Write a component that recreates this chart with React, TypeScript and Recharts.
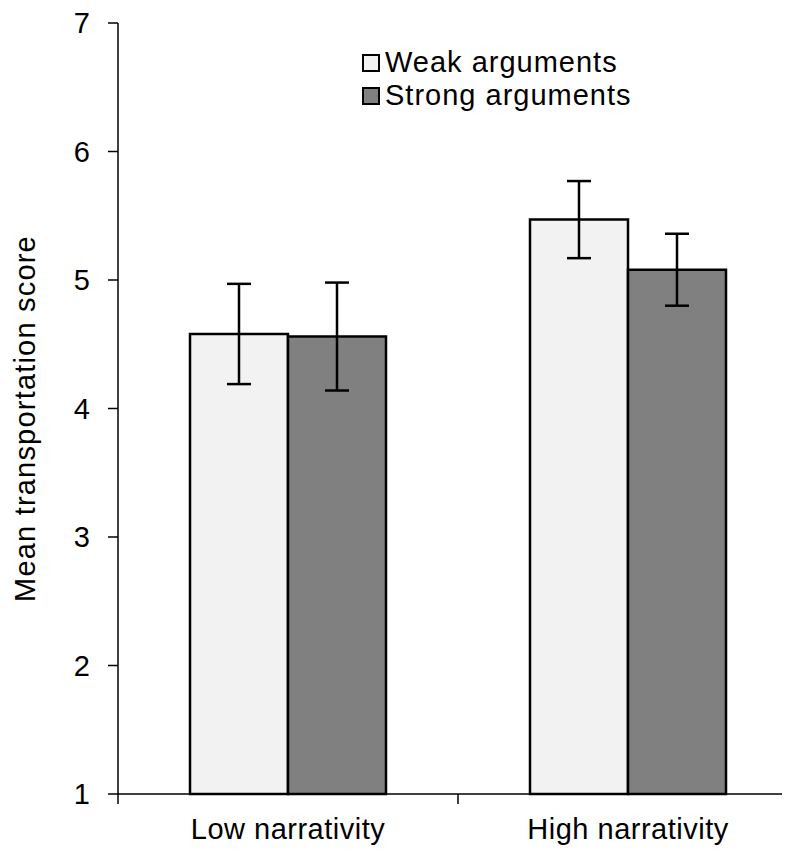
import { BarChart, Bar, XAxis, YAxis, ErrorBar } from 'recharts';

const categories = ['Low narrativity', 'High narrativity'];
const weakMeans = [4.58, 5.47];
const weakErrors = [0.39, 0.3];
const strongMeans = [4.56, 5.08];
const strongErrors = [0.42, 0.28];
const yTicks = [1, 2, 3, 4, 5, 6, 7];

const data = categories.map((name, i) => ({
  name,
  weak: weakMeans[i],
  weakErr: weakErrors[i],
  strong: strongMeans[i],
  strongErr: strongErrors[i],
}));

const FONT = '"Liberation Sans", Arial, sans-serif';
const CHART_W = 800;
const CHART_H = 845;
const Y_AXIS_W = 110;
const MARGIN = { top: 15, right: 10, bottom: 0, left: 0 };
const BAND = (CHART_W - MARGIN.left - MARGIN.right - Y_AXIS_W) / categories.length;

const series = [
  { key: 'weak', err: 'weakErr', name: 'Weak arguments', fill: '#f2f2f2' },
  { key: 'strong', err: 'strongErr', name: 'Strong arguments', fill: '#808080' },
];

function XTick(props: any) {
  const { x, y, payload, index } = props;
  const last = index === categories.length - 1;
  return (
    <g>
      <line x1={x - BAND / 2} y1={y - 10} x2={x - BAND / 2} y2={y} stroke="#000" strokeWidth={1.5} />
      {last && <line x1={x + BAND / 2} y1={y - 10} x2={x + BAND / 2} y2={y} stroke="#000" strokeWidth={1.5} />}
      <text x={x} y={y + 35} textAnchor="middle" fontSize={29} fontFamily={FONT} letterSpacing={0.5} fill="#000">
        {payload.value}
      </text>
    </g>
  );
}

function LegendBox() {
  return (
    <div
      style={{
        position: 'absolute',
        left: 354,
        top: 38,
        fontFamily: FONT,
        fontSize: 29,
        letterSpacing: 1,
        color: '#000',
        lineHeight: '33px',
      }}
    >
      {series.map((s) => (
        <div key={s.key} style={{ display: 'flex', alignItems: 'center' }}>
          <span
            style={{
              display: 'inline-block',
              width: 14,
              height: 14,
              background: s.fill,
              border: '2px solid #000',
              marginRight: 5,
            }}
          />
          {s.name}
        </div>
      ))}
    </div>
  );
}

export default function App() {
  return (
    <div style={{ position: 'relative', width: 782, height: 845, overflow: 'hidden' }}>
      <BarChart width={CHART_W} height={CHART_H} data={data} margin={MARGIN} barGap={0} barSize={98}>
        <XAxis
          dataKey="name"
          height={CHART_H - MARGIN.top - 771}
          axisLine={{ stroke: '#000', strokeWidth: 1.5 }}
          tickLine={false}
          tickSize={10}
          tickMargin={0}
          tick={<XTick />}
          interval={0}
        />
        <YAxis
          width={Y_AXIS_W}
          domain={[1, 7]}
          ticks={yTicks}
          interval={0}
          axisLine={{ stroke: '#000', strokeWidth: 1.5 }}
          tickLine={{ stroke: '#000', strokeWidth: 1.5 }}
          tickSize={10}
          tickMargin={18}
          tick={{ fill: '#000', fontSize: 29, fontFamily: FONT }}
          label={{
            content: (p: any) => {
              const vb = p.viewBox;
              const cy = vb.y + vb.height / 2 + 10;
              return (
                <text
                  x={17}
                  y={cy}
                  transform={`rotate(-90, 17, ${cy})`}
                  textAnchor="middle"
                  dominantBaseline="central"
                  fontSize={29}
                  letterSpacing={1.2}
                  fontFamily={FONT}
                  fill="#000"
                >
                  Mean transportation score
                </text>
              );
            },
          }}
        />
        {series.map((s) => (
          <Bar
            key={s.key}
            dataKey={s.key}
            name={s.name}
            fill={s.fill}
            stroke="#000"
            strokeWidth={2.5}
            isAnimationActive={false}
          >
            <ErrorBar dataKey={s.err} width={12} stroke="#000" strokeWidth={2.5} />
          </Bar>
        ))}
      </BarChart>
      <LegendBox />
    </div>
  );
}
